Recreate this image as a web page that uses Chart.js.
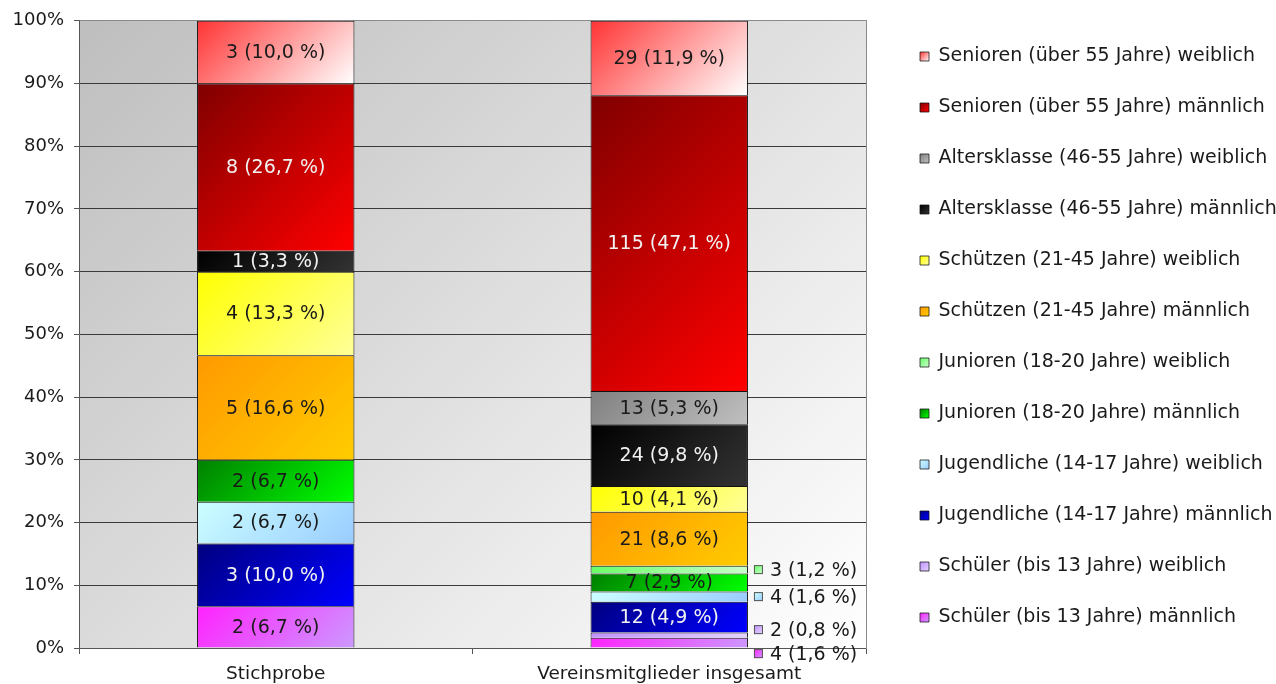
<!DOCTYPE html>
<html lang="de">
<head>
<meta charset="utf-8">
<title>Altersstruktur Stichprobe / Verein</title>
<script src="https://cdn.jsdelivr.net/npm/chart.js@4.4.1/dist/chart.umd.min.js"></script>
<style>
  html, body { margin: 0; padding: 0; background: #fff; }
  #wrap { width: 1276px; height: 684px; }
</style>
</head>
<body>
<div id="wrap"><canvas id="myChart"></canvas></div>
<script>
const categories = ['Stichprobe', 'Vereinsmitglieder insgesamt'];

const seriesNames = [
    'Schüler (bis 13 Jahre) männlich',
    'Schüler (bis 13 Jahre) weiblich',
    'Jugendliche (14-17 Jahre) männlich',
    'Jugendliche (14-17 Jahre) weiblich',
    'Junioren (18-20 Jahre) männlich',
    'Junioren (18-20 Jahre) weiblich',
    'Schützen (21-45 Jahre) männlich',
    'Schützen (21-45 Jahre) weiblich',
    'Altersklasse (46-55 Jahre) männlich',
    'Altersklasse (46-55 Jahre) weiblich',
    'Senioren (über 55 Jahre) männlich',
    'Senioren (über 55 Jahre) weiblich'
];

// Anzahl Personen: [Stichprobe, Vereinsmitglieder]
const schuelerM = [2, 4];
const schuelerW = [0, 2];
const jugendM = [3, 12];
const jugendW = [2, 4];
const juniorenM = [2, 7];
const juniorenW = [0, 3];
const schuetzenM = [5, 21];
const schuetzenW = [4, 10];
const altersM = [1, 24];
const altersW = [0, 13];
const seniorenM = [8, 115];
const seniorenW = [3, 29];

// Prozentangaben wie beschriftet
const schuelerMPct = [6.7, 1.6];
const schuelerWPct = [0, 0.8];
const jugendMPct = [10.0, 4.9];
const jugendWPct = [6.7, 1.6];
const juniorenMPct = [6.7, 2.9];
const juniorenWPct = [0, 1.2];
const schuetzenMPct = [16.6, 8.6];
const schuetzenWPct = [13.3, 4.1];
const altersMPct = [3.3, 9.8];
const altersWPct = [0, 5.3];
const seniorenMPct = [26.7, 47.1];
const seniorenWPct = [10.0, 11.9];

const counts = [schuelerM, schuelerW, jugendM, jugendW, juniorenM, juniorenW,
    schuetzenM, schuetzenW, altersM, altersW, seniorenM, seniorenW];
const percents = [schuelerMPct, schuelerWPct, jugendMPct, jugendWPct, juniorenMPct, juniorenWPct,
    schuetzenMPct, schuetzenWPct, altersMPct, altersWPct, seniorenMPct, seniorenWPct];

// Farbverlauf je Reihe: oben links -> unten rechts
const fills = [
    ['#ff22ff', '#cc99ff'],
    ['#c090ff', '#e4d4ff'],
    ['#000080', '#0000ff'],
    ['#ccffff', '#99ccff'],
    ['#008000', '#00ff00'],
    ['#66ff66', '#ccffcc'],
    ['#ff9900', '#ffcc00'],
    ['#ffff00', '#ffff99'],
    ['#000000', '#333333'],
    ['#808080', '#c0c0c0'],
    ['#800000', '#ff0000'],
    ['#ff3333', '#ffffff']
];
const whiteText = [2, 8, 10];
const labelFont = '19px "DejaVu Sans", Verdana, sans-serif';

Chart.defaults.font.family = '"DejaVu Sans", Verdana, sans-serif';
Chart.defaults.font.size = 18;
Chart.defaults.color = '#1a1a1a';

const totals = categories.map((c, i) => counts.reduce((s, arr) => s + arr[i], 0));
const fmt = v => v.toFixed(1).replace('.', ',');

// 45-Grad-Verlauf wie in Excel, vom linken oberen Eck aus
function diagGradient(ctx, x0, y0, w, h, c0, c1) {
    const s = (w + h) / 2;
    const g = ctx.createLinearGradient(x0, y0, x0 + s, y0 + s);
    g.addColorStop(0, c0);
    g.addColorStop(1, c1);
    return g;
}

const verlauf = {
    id: 'verlauf',
    afterLayout(chart) {
        // Legende etwas nach oben setzen
        chart.legend.top -= 14;
        chart.legend.bottom -= 14;
    },
    beforeDraw(chart) {
        const {ctx, chartArea: a} = chart;
        ctx.save();
        ctx.fillStyle = diagGradient(ctx, a.left, a.top, a.width, a.height, '#bebebe', '#ffffff');
        ctx.fillRect(a.left, a.top, a.width, a.height);
        ctx.restore();

        const legend = chart.legend;
        const lo = legend.options.labels;
        legend.legendItems.forEach((item, k) => {
            const hb = legend.legendHitBoxes[k];
            const top = hb.top + (lo.font.size - lo.boxHeight) / 2;
            const f = fills[item.datasetIndex];
            item.fillStyle = diagGradient(ctx, hb.left, top, lo.boxWidth, lo.boxHeight, f[0], f[1]);
        });
    },
    beforeDatasetsDraw(chart) {
        const ctx = chart.ctx;
        chart.data.datasets.forEach((ds, di) => {
            chart.getDatasetMeta(di).data.forEach(bar => {
                const {x, y, base, width} = bar.getProps(['x', 'y', 'base', 'width'], true);
                const g = diagGradient(ctx, x - width / 2, Math.min(y, base), width, Math.abs(base - y), fills[di][0], fills[di][1]);
                bar.options = Object.assign({}, bar.options, {backgroundColor: g});
            });
        });
    },
    afterDatasetsDraw(chart) {
        const ctx = chart.ctx;
        ctx.save();
        ctx.font = labelFont;
        ctx.textBaseline = 'middle';
        const outside = [];
        chart.data.datasets.forEach((ds, di) => {
            chart.getDatasetMeta(di).data.forEach((bar, i) => {
                const n = counts[di][i];
                if (!n) return;
                const {x, y, base, width} = bar.getProps(['x', 'y', 'base', 'width'], true);
                const text = n + ' (' + fmt(percents[di][i]) + ' %)';
                if (ds.data[i] < 2) {
                    outside.push({di, text, x: x + width / 2, y: (y + base) / 2});
                    return;
                }
                ctx.textAlign = 'center';
                ctx.fillStyle = whiteText.includes(di) ? '#f2f2f2' : '#1a1a1a';
                ctx.fillText(text, x, (y + base) / 2 + 1);
            });
        });
        // kleine Segmente: Beschriftung rechts neben dem Balken
        outside.sort((a, b) => a.y - b.y);
        for (let k = 1; k < outside.length; k++) {
            const gap = outside[k].y - outside[k - 1].y;
            if (gap < 24) {
                outside[k - 1].y -= (24 - gap) / 3;
                outside[k].y = outside[k - 1].y + 24;
            }
        }
        outside.forEach(o => {
            const bx = o.x + 6, by = o.y - 4.5;
            const f = fills[o.di];
            ctx.fillStyle = diagGradient(ctx, bx, by, 9, 9, f[0], f[1]);
            ctx.fillRect(bx, by, 9, 9);
            ctx.strokeStyle = '#555';
            ctx.lineWidth = 1;
            ctx.strokeRect(bx + 0.5, by + 0.5, 8, 8);
            ctx.textAlign = 'left';
            ctx.fillStyle = '#1a1a1a';
            ctx.fillText(o.text, o.x + 22, o.y + 1);
        });
        ctx.restore();
    }
};

const datasets = counts.map((arr, di) => ({
    label: seriesNames[di],
    data: arr.map((v, i) => v / totals[i] * 100),
    backgroundColor: fills[di][1],
    borderColor: '#111',
    borderWidth: {top: 1, left: 1, right: 1, bottom: 0},
    borderSkipped: false,
    categoryPercentage: 0.4,
    barPercentage: 1
}));

new Chart(document.getElementById('myChart'), {
    type: 'bar',
    data: {labels: categories, datasets: datasets},
    options: {
        responsive: true,
        maintainAspectRatio: false,
        animation: false,
        layout: {padding: {top: 18, bottom: 0, left: 0, right: 0}},
        scales: {
            x: {
                stacked: true,
                grid: {offset: true, drawOnChartArea: false, tickLength: 6, color: '#555'},
                border: {color: '#555'},
                ticks: {padding: 9, color: '#1a1a1a', font: {size: 18.5}},
                afterFit: s => { s.height = 36; }
            },
            y: {
                stacked: true,
                min: 0,
                max: 100,
                ticks: {stepSize: 10, padding: 10, color: '#1a1a1a', callback: v => v + '%'},
                grid: {
                    color: c => (c.tick && c.tick.value === 100) ? '#8a8a8a' : '#3a3a3a',
                    tickColor: '#555',
                    tickLength: 5
                },
                border: {color: '#555'},
                afterFit: s => { s.width = 79; }
            },
            rand: {
                position: 'right',
                display: true,
                grid: {drawOnChartArea: false, drawTicks: false},
                ticks: {display: false},
                border: {color: '#8a8a8a'},
                afterFit: s => { s.width = 22; }
            }
        },
        plugins: {
            tooltip: {enabled: false},
            legend: {
                position: 'right',
                reverse: true,
                maxWidth: 388,
                labels: {
                    boxWidth: 9,
                    boxHeight: 9,
                    padding: 32,
                    color: '#1a1a1a',
                    font: {size: 19}
                }
            }
        }
    },
    plugins: [verlauf]
});
</script>
</body>
</html>
